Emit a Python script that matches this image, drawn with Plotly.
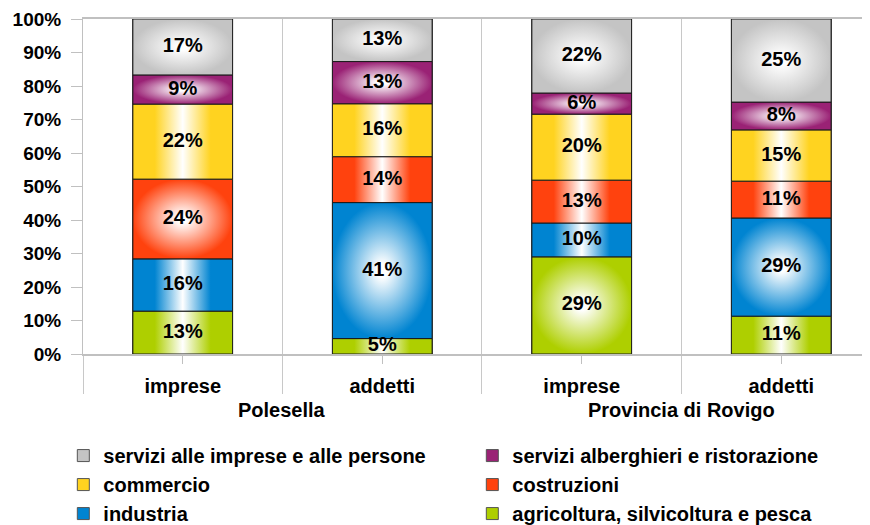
import plotly.graph_objects as go

# x categories (two levels)
groups = ["Polesella", "Polesella", "Provincia di Rovigo", "Provincia di Rovigo"]
categories = ["imprese", "addetti", "imprese", "addetti"]

# shares in %, bottom to top of each stack
agricoltura = [12.8, 4.6, 29.0, 11.3]
industria = [15.6, 40.6, 10.1, 29.3]
costruzioni = [23.8, 13.7, 12.8, 11.0]
commercio = [22.4, 15.8, 19.7, 15.3]
alberghi = [8.7, 12.6, 6.3, 8.3]
servizi = [16.7, 12.7, 22.1, 24.8]

names = [
    "agricoltura, silvicoltura e pesca",
    "industria",
    "costruzioni",
    "commercio",
    "servizi alberghieri e ristorazione",
    "servizi alle imprese e alle persone",
]
values = [agricoltura, industria, costruzioni, commercio, alberghi, servizi]
colors = ["#aecf00", "#0084d1", "#ff420e", "#ffd320", "#9a2275", "#c4c4c4"]

FONT = "Liberation Sans"
BAR_W = 0.5
pos = list(range(len(categories)))

fig = go.Figure()

# plain stacked bars: they carry the legend
for name, vals, col in zip(names, values, colors):
    fig.add_trace(go.Bar(
        x=pos, y=vals, name=name, width=BAR_W,
        marker=dict(color=col, line=dict(color="#555555", width=1)),
        hoverinfo="skip",
    ))

# gradient fills drawn over the bars (same rectangles)
base = [0.0] * len(categories)
lab_x, lab_y, lab_t = [], [], []
for name, vals, col in zip(names, values, colors):
    for i, v in enumerate(vals):
        x0, x1 = i - BAR_W / 2, i + BAR_W / 2
        y0, y1 = base[i], base[i] + v
        if col in ("#c4c4c4", "#9a2275") or v > 23:
            # radial: 0 is the centre, 1 the edge
            grad = dict(type="radial", colorscale=[[0, "white"], [0.1, "white"], [1, col]])
        else:
            grad = dict(type="horizontal", colorscale=[[0, col], [0.22, col], [0.5, "white"], [0.78, col], [1, col]])
        fig.add_trace(go.Scatter(
            x=[x0, x1, x1, x0, x0], y=[y0, y0, y1, y1, y0],
            mode="lines", fill="toself", fillgradient=grad,
            line=dict(color="#1a1a1a", width=1),
            showlegend=False, hoverinfo="skip",
        ))
        lab_x.append(i)
        lab_y.append((y0 + y1) / 2)
        lab_t.append(f"{round(v)}%")
        base[i] += v

fig.add_trace(go.Scatter(
    x=lab_x, y=lab_y, text=lab_t, mode="text",
    textfont=dict(family=FONT, size=20, color="black", weight="bold"),
    showlegend=False, hoverinfo="skip",
))

# group labels under the category labels
group_names = list(dict.fromkeys(groups))
for g in group_names:
    idx = [i for i, gg in enumerate(groups) if gg == g]
    fig.add_annotation(
        x=sum(idx) / len(idx), y=-0.167, xref="x", yref="paper",
        text=g, showarrow=False, yanchor="middle",
        font=dict(family=FONT, size=20, color="black", weight="bold"),
    )
# group boundaries (for the long divider ticks)
group_edges = [-0.5] + [i + 0.5 for i in range(len(groups) - 1) if groups[i] != groups[i + 1]] + [len(groups) - 0.5]

xr = [-0.5, 3.445]
fig.update_layout(
    width=870, height=525,
    margin=dict(l=75, r=8, t=11, b=179, autoexpand=False),
    barmode="stack",
    plot_bgcolor="white", paper_bgcolor="white",
    font=dict(family=FONT, size=20, color="black", weight="bold"),
    xaxis=dict(
        range=xr, tickmode="array", tickvals=pos, ticktext=categories,
        showgrid=False, zeroline=False,
        showline=True, linecolor="#c0c0c0", linewidth=2, mirror=True,
        ticks="outside", ticklen=8, tickcolor="#c0c0c0", ticklabelstandoff=5,
        tickfont=dict(family=FONT, size=20, weight="bold"),
        minor=dict(tickmode="linear", tick0=-0.5, dtick=1, ticks="outside",
                   ticklen=38, tickcolor="#c8c8c8", showgrid=True, gridcolor="#c8c8c8"),
    ),
    xaxis2=dict(
        overlaying="x", anchor="y", side="bottom", range=xr,
        tickmode="array", tickvals=group_edges, ticks="outside", ticklen=61,
        tickcolor="#c8c8c8", showticklabels=False, showgrid=False, zeroline=False,
    ),
    yaxis=dict(
        range=[0, 100], dtick=10, ticksuffix="%", showgrid=False, zeroline=False,
        showline=True, linecolor="#c0c0c0", ticks="outside", ticklen=11,
        tickcolor="#c0c0c0", ticklabelstandoff=6,
        tickfont=dict(family=FONT, size=19, weight="bold"),
    ),
    legend=dict(
        orientation="h", x=-0.025, xanchor="left", y=-0.245, yanchor="top",
        traceorder="reversed", entrywidth=364, entrywidthmode="pixels",
        font=dict(family=FONT, size=20, weight="bold"), tracegroupgap=0,
    ),
)

fig.write_html("out.html")
